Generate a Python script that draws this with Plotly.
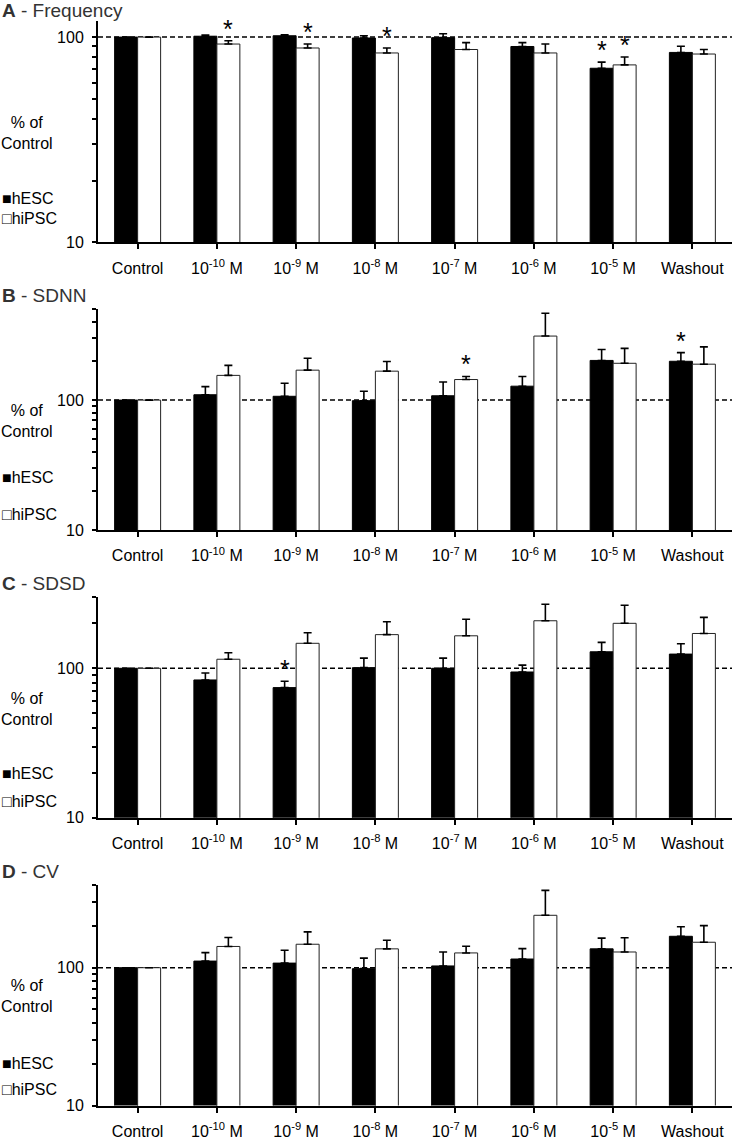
import math
import plotly.graph_objects as go

categories = ["Control", "1e-10", "1e-9", "1e-8", "1e-7", "1e-6", "1e-5", "Washout"]
tick_labels = ["Control", "10<sup>-10</sup> M", "10<sup>-9</sup> M", "10<sup>-8</sup> M",
               "10<sup>-7</sup> M", "10<sup>-6</sup> M", "10<sup>-5</sup> M", "Washout"]

# Panel A - Frequency
freq_hesc = [100, 101, 101.5, 99, 99.4, 90, 70.5, 84.2]
freq_hesc_err = [None, 1.2, 1.2, 2.5, 4.5, 4, 5, 6]
freq_hipsc = [100, 92.5, 88.5, 83.7, 87, 83.7, 73.2, 82.7]
freq_hipsc_err = [None, 3.5, 4, 4.8, 7, 8.8, 6.8, 4.3]
freq_stars_hesc = [6]
freq_stars_hipsc = [1, 2, 3, 6]

# Panel B - SDNN
sdnn_hesc = [100, 110, 107, 99, 108, 128, 202, 199]
sdnn_hesc_err = [None, 17, 28, 18, 30, 24, 43, 33]
sdnn_hipsc = [100, 155, 170, 167, 144, 311, 192, 189]
sdnn_hipsc_err = [None, 30, 40, 31, 8, 155, 58, 68]
sdnn_stars_hesc = [7]
sdnn_stars_hipsc = [4]

# Panel C - SDSD
sdsd_hesc = [100, 83.6, 74.3, 101, 100, 94.5, 129, 124.5]
sdsd_hesc_err = [None, 9.4, 7.6, 16, 17, 10.5, 20, 21.5]
sdsd_hipsc = [100, 115, 147, 168, 165, 208, 200, 171]
sdsd_hipsc_err = [None, 12, 26, 37, 48, 60, 64, 48]
sdsd_stars_hesc = [2]
sdsd_stars_hipsc = []

# Panel D - CV
cv_hesc = [100, 111.7, 108, 98.4, 103, 115.6, 137, 169]
cv_hesc_err = [None, 17, 26, 19, 27, 22, 27, 29]
cv_hipsc = [100, 142.6, 148, 137, 128, 240, 130, 153]
cv_hipsc_err = [None, 23, 34, 21, 15, 124, 35, 49]
cv_stars_hesc = []
cv_stars_hipsc = []

panel_letters = ["A", "B", "C", "D"]
panel_names = ["Frequency", "SDNN", "SDSD", "CV"]
y_max = [120, 500, 300, 400]

W, H = 732, 1148
FONT = "Arial, 'Liberation Sans', sans-serif"
# pixel layout of each plot area (top, bottom)
plot_px = [(21, 244.3), (311.7, 534.3), (601.7, 824.3), (891.7, 1114.3)]
title_px = [10.5, 298, 588, 878]
legend_px = [(200.5, 220.5), (481.7, 518.3), (780, 808.3), (1071.7, 1098.3)]
X0 = 98

panels = [
    (freq_hesc, freq_hesc_err, freq_hipsc, freq_hipsc_err, freq_stars_hesc, freq_stars_hipsc),
    (sdnn_hesc, sdnn_hesc_err, sdnn_hipsc, sdnn_hipsc_err, sdnn_stars_hesc, sdnn_stars_hipsc),
    (sdsd_hesc, sdsd_hesc_err, sdsd_hipsc, sdsd_hipsc_err, sdsd_stars_hesc, sdsd_stars_hipsc),
    (cv_hesc, cv_hesc_err, cv_hipsc, cv_hipsc_err, cv_stars_hesc, cv_stars_hipsc),
]

fig = go.Figure()
annotations = []
shapes = []
layout_axes = {}

def py(px):
    return 1 - px / H

for i, (h, he, p, pe, sh, sp) in enumerate(panels):
    n = "" if i == 0 else str(i + 1)
    xa, ya = "x" + n, "y" + n
    minus = [None if e is None else 0 for e in he]
    minus_p = [None if e is None else 0 for e in pe]
    fig.add_trace(go.Bar(
        x=categories, y=h, xaxis=xa, yaxis=ya, name="hESC", showlegend=False,
        marker=dict(color="black", line=dict(color="black", width=1)),
        error_y=dict(type="data", symmetric=False, array=he, arrayminus=minus,
                     color="black", thickness=1.6, width=4),
    ))
    fig.add_trace(go.Bar(
        x=categories, y=p, xaxis=xa, yaxis=ya, name="hiPSC", showlegend=False,
        marker=dict(color="white", line=dict(color="#222", width=1)),
        error_y=dict(type="data", symmetric=False, array=pe, arrayminus=minus_p,
                     color="black", thickness=1.6, width=4),
    ))
    top, bot = plot_px[i]
    ymax = y_max[i]
    tv = [v for v in list(range(10, 100, 10)) + list(range(100, 1001, 100)) if v <= ymax]
    tt = [str(v) if v in (10, 100) else "" for v in tv]
    layout_axes["xaxis" + n] = dict(
        domain=[X0 / W, 1], anchor=ya, type="category",
        categoryorder="array", categoryarray=categories,
        range=[-0.5, 7.5], tickmode="array", tickvals=categories, ticktext=tick_labels,
        showline=True, linecolor="black", linewidth=2, ticks="outside", ticklen=5,
        tickwidth=1.5, tickcolor="black", ticklabelstandoff=5,
        tickfont=dict(family=FONT, size=16, color="black"), showgrid=False, zeroline=False,
        fixedrange=True,
    )
    layout_axes["yaxis" + n] = dict(
        domain=[py(bot), py(top)], anchor=xa, type="log",
        range=[1, math.log10(ymax)], tickmode="array", tickvals=tv, ticktext=tt,
        showline=True, linecolor="black", linewidth=2, ticks="outside", ticklen=4,
        tickwidth=1.5, tickcolor="black", ticklabelstandoff=5,
        tickfont=dict(family=FONT, size=16, color="black"), showgrid=False, zeroline=False,
        fixedrange=True,
    )
    shapes.append(dict(type="line", xref=xa + " domain", x0=0, x1=1, yref=ya, y0=100, y1=100,
                       line=dict(color="black", width=1.5, dash="5px,3px"), layer="below"))
    # significance stars
    for idx in sh:
        annotations.append(dict(x=idx - 0.145, y=math.log10(h[idx] + (he[idx] or 0)),
                                xref=xa, yref=ya, text="*", showarrow=False,
                                yanchor="middle", yshift=12,
                                font=dict(family=FONT, size=25, color="black")))
    for idx in sp:
        annotations.append(dict(x=idx + 0.145, y=math.log10(p[idx] + (pe[idx] or 0)),
                                xref=xa, yref=ya, text="*", showarrow=False,
                                yanchor="middle", yshift=12,
                                font=dict(family=FONT, size=25, color="black")))
    # panel title
    annotations.append(dict(x=0, y=py(title_px[i]), xref="paper", yref="paper",
                            xanchor="left", yanchor="middle", showarrow=False,
                            text="<b>%s</b> - %s" % (panel_letters[i], panel_names[i]),
                            font=dict(family=FONT, size=19, color="#333")))
    # y axis label
    annotations.append(dict(x=27 / W, y=py(bot - 110), xref="paper", yref="paper",
                            xanchor="center", yanchor="middle", showarrow=False,
                            text="% of<br>Control", align="center",
                            font=dict(family=FONT, size=16, color="black")))
    # legend
    l1, l2 = legend_px[i]
    annotations.append(dict(x=0, y=py(l1), xref="paper", yref="paper",
                            xanchor="left", yanchor="middle", showarrow=False,
                            text="■hESC",
                            font=dict(family=FONT, size=16, color="black")))
    annotations.append(dict(x=0, y=py(l2), xref="paper", yref="paper",
                            xanchor="left", yanchor="middle", showarrow=False,
                            text="□hiPSC",
                            font=dict(family=FONT, size=16, color="black")))

fig.update_layout(
    width=W, height=H, margin=dict(l=0, r=0, t=0, b=0),
    paper_bgcolor="white", plot_bgcolor="white",
    barmode="group", bargap=0.42, bargroupgap=0,
    annotations=annotations, shapes=shapes, showlegend=False,
    font=dict(family=FONT, size=16, color="black"),
    **layout_axes,
)
fig.write_html("out.html", config={"displayModeBar": False},
               post_script="document.body.style.margin='0px';")
